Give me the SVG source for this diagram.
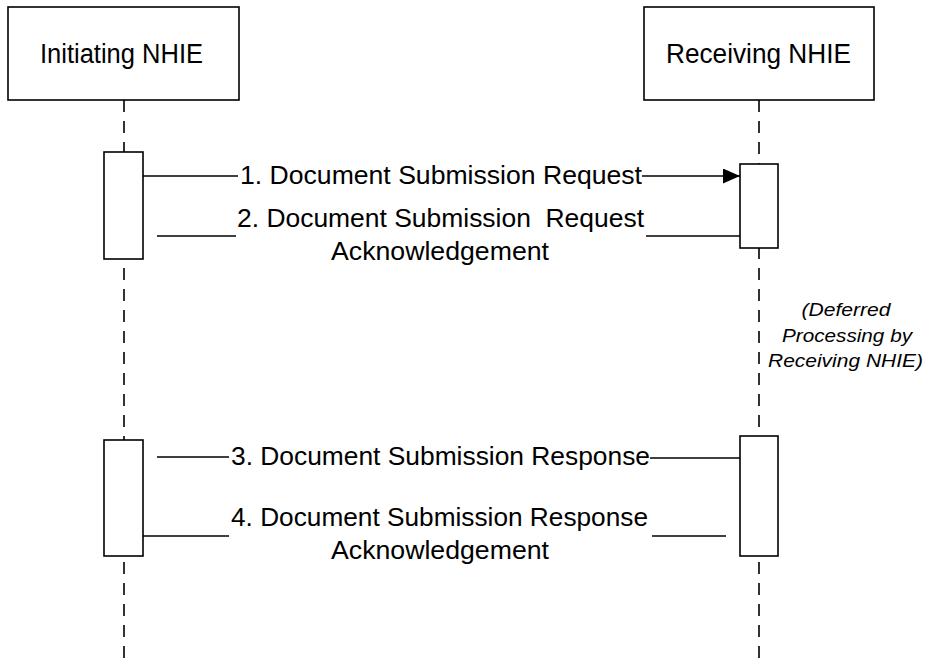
<svg xmlns="http://www.w3.org/2000/svg" width="927" height="660" viewBox="0 0 927 660">
<style>
  .box { fill: #ffffff; stroke: #000000; stroke-width: 1.6; }
  .life { stroke: #000000; stroke-width: 1.6; stroke-dasharray: 12 9; fill: none; }
  .msg { stroke: #000000; stroke-width: 1.6; fill: none; }
  .title { font-family: "Liberation Sans", Arial, sans-serif; font-size: 27px; fill: #000; text-anchor: middle; }
  .lbl { font-family: "Liberation Sans", Arial, sans-serif; font-size: 25px; fill: #000; text-anchor: middle; white-space: pre; }
  .note { font-family: "Liberation Sans", Arial, sans-serif; font-size: 19px; font-style: italic; fill: #000; text-anchor: middle; }
</style>
<defs>
  <marker id="arrow" markerWidth="17" markerHeight="15" refX="17" refY="7.5" orient="auto" markerUnits="userSpaceOnUse">
    <path d="M0,0 L17,7.5 L0,15 Z" fill="#000"/>
  </marker>
</defs>
<rect width="927" height="660" fill="#ffffff"/>

<g id="lifelines">
  <line class="life" x1="124" y1="100" x2="124" y2="660"/>
  <line class="life" x1="759" y1="100" x2="759" y2="660"/>
</g>

<g id="initiating">
  <rect class="box" x="8" y="7" width="231" height="93"/>
  <text class="title" x="121.5" y="63" textLength="163" lengthAdjust="spacingAndGlyphs">Initiating NHIE</text>
</g>
<g id="receiving">
  <rect class="box" x="644" y="7" width="230" height="93"/>
  <text class="title" x="758.5" y="63" textLength="185" lengthAdjust="spacingAndGlyphs">Receiving NHIE</text>
</g>

<g id="act-init-1"><rect class="box" x="104" y="152" width="39" height="107"/></g>
<g id="act-recv-1"><rect class="box" x="740" y="164" width="38" height="84"/></g>
<g id="act-init-2"><rect class="box" x="104" y="440" width="39" height="116"/></g>
<g id="act-recv-2"><rect class="box" x="740" y="436" width="38" height="120"/></g>

<g id="connectors">
  <line class="msg" x1="143" y1="176" x2="238" y2="176"/>
  <line class="msg" x1="642" y1="176" x2="740" y2="176" marker-end="url(#arrow)"/>
  <line class="msg" x1="157" y1="236" x2="236" y2="236"/>
  <line class="msg" x1="646" y1="236" x2="740" y2="236"/>
  <line class="msg" x1="157" y1="457" x2="229" y2="457"/>
  <line class="msg" x1="650" y1="458" x2="740" y2="458"/>
  <line class="msg" x1="143" y1="536" x2="229" y2="536"/>
  <line class="msg" x1="652" y1="536" x2="726" y2="536"/>
</g>

<g id="labels">
  <text class="lbl" x="441" y="184" textLength="402" lengthAdjust="spacingAndGlyphs">1. Document Submission Request</text>
  <text class="lbl" x="440.5" y="227" textLength="407" lengthAdjust="spacingAndGlyphs" xml:space="preserve">2. Document Submission  Request</text>
  <text class="lbl" x="440" y="260" textLength="218" lengthAdjust="spacingAndGlyphs">Acknowledgement</text>
  <text class="lbl" x="440.5" y="465" textLength="419" lengthAdjust="spacingAndGlyphs">3. Document Submission Response</text>
  <text class="lbl" x="439.5" y="526" textLength="417" lengthAdjust="spacingAndGlyphs">4. Document Submission Response</text>
  <text class="lbl" x="440" y="559" textLength="218" lengthAdjust="spacingAndGlyphs">Acknowledgement</text>
</g>

<g id="note">
  <text class="note" x="846" y="316" textLength="89" lengthAdjust="spacingAndGlyphs">(Deferred</text>
  <text class="note" x="847" y="342" textLength="130" lengthAdjust="spacingAndGlyphs">Processing by</text>
  <text class="note" x="845.5" y="367" textLength="155" lengthAdjust="spacingAndGlyphs">Receiving NHIE)</text>
</g>
</svg>
